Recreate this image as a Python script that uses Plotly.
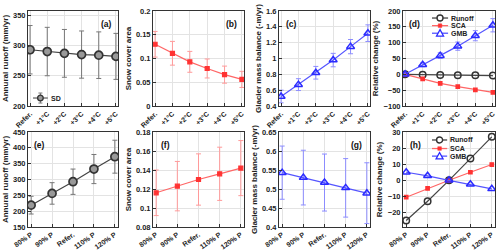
import plotly.graph_objects as go

temp_labels = ["Refer.", "+1°C", "+2°C", "+3°C", "+4°C", "+5°C"]
precip_labels = ["80% P", "90% P", "Refer.", "110% P", "120% P"]

runoff_t = [293, 290, 287, 285, 284, 282]
runoff_t_sd = [40, 40, 39.5, 39, 38.5, 38]
sca_t = [0.130, 0.111, 0.093, 0.079, 0.066, 0.056]
sca_t_sd = [0.027, 0.025, 0.022, 0.020, 0.018, 0.017]
gmb_t = [0.52, 0.67, 0.82, 0.98, 1.15, 1.32]
gmb_t_sd = [0.08, 0.075, 0.08, 0.085, 0.09, 0.105]
rel_runoff_t = [0, -1, -2, -2.7, -3.1, -3.8]
rel_sca_t = [0, -14.5, -28.5, -39, -49, -57]
rel_gmb_t = [0, 30, 59, 89, 122, 155]
rel_gmb_t_sd = [4, 6, 9, 13, 16, 21]

runoff_p = [219, 256, 293, 333, 372]
runoff_p_sd = [28, 34, 40, 46, 52]
sca_p = [0.116, 0.123, 0.130, 0.136, 0.142]
sca_p_sd = [0.024, 0.026, 0.027, 0.028, 0.029]
gmb_p = [0.543, 0.530, 0.517, 0.503, 0.489]
gmb_p_sd = [0.070, 0.072, 0.075, 0.077, 0.080]
rel_runoff_p = [-25, -13, 0, 13.5, 27]
rel_sca_p = [-10.5, -5, 0, 5, 9.8]
rel_gmb_p = [5, 2.8, 0, -2.5, -5.3]

series_names = ["Runoff", "SCA", "GMB"]

W, H = 500, 251
FONT = "Liberation Sans"

GRAY_LINE = "#444444"
GRAY_MK = "#333333"
GRAY_ERR = "#777777"
RED = "#ff3333"
RED_LINE = "#ff6666"
RED_ERR = "#ff9a9a"
BLUE = "#2a2aff"
BLUE_LINE = "#5555ff"
BLUE_ERR = "#8c8cff"

fig = go.Figure()

xdom_px = [(28, 118), (153, 244), (279, 370), (403, 495)]
ydom_top = (11, 106)
ydom_bot = (132, 227)

def xd(p):
    return [p[0] / W, p[1] / W]

def yd(p):
    return [1 - p[1] / H, 1 - p[0] / H]

def sfx(n):
    return "" if n == 1 else str(n)

def add_series(ax, x, y, err, color_line, color_marker, color_err, symbol, size,
               mfill=None, mline=1.2):
    kw = {}
    if err is not None:
        kw["error_y"] = dict(type="data", array=err, visible=True, color=color_err,
                             thickness=1, width=2.5)
    marker = dict(symbol=symbol, size=size, color=mfill if mfill else color_marker,
                  line=dict(color=color_marker, width=mline))
    fig.add_trace(go.Scatter(
        x=x, y=y, mode="lines+markers", showlegend=False,
        line=dict(color=color_line, width=1.2), marker=marker,
        xaxis="x" + sfx(ax), yaxis="y" + sfx(ax), **kw))

xt = list(range(len(temp_labels)))
xp = list(range(len(precip_labels)))

add_series(1, xt, runoff_t, runoff_t_sd, GRAY_LINE, GRAY_MK, GRAY_ERR,
           "circle", 8, mfill="#999999", mline=1.7)
add_series(2, xt, sca_t, sca_t_sd, RED_LINE, RED, RED_ERR, "square", 4)
add_series(3, xt, gmb_t, gmb_t_sd, BLUE_LINE, BLUE, BLUE_ERR, "triangle-up-open", 7, mline=1.5)
add_series(4, xt, rel_runoff_t, None, GRAY_LINE, GRAY_MK, GRAY_ERR, "circle-open", 6.5, mline=1.5)
add_series(4, xt, rel_sca_t, None, RED_LINE, RED, RED_ERR, "square", 3.5)
add_series(4, xt, rel_gmb_t, rel_gmb_t_sd, BLUE_LINE, BLUE, BLUE_ERR,
           "triangle-up-open", 7, mline=1.5)
add_series(5, xp, runoff_p, runoff_p_sd, GRAY_LINE, GRAY_MK, GRAY_ERR,
           "circle", 8, mfill="#999999", mline=1.7)
add_series(6, xp, sca_p, sca_p_sd, RED_LINE, RED, RED_ERR, "square", 4)
add_series(7, xp, gmb_p, gmb_p_sd, BLUE_LINE, BLUE, BLUE_ERR, "triangle-up-open", 7, mline=1.5)
add_series(8, xp, rel_runoff_p, None, GRAY_LINE, GRAY_MK, GRAY_ERR, "circle-open", 6.5, mline=1.5)
add_series(8, xp, rel_sca_p, None, RED_LINE, RED, RED_ERR, "square", 3.5)
add_series(8, xp, rel_gmb_p, None, BLUE_LINE, BLUE, BLUE_ERR, "triangle-up-open", 7, mline=1.5)

ytitles = ["Annural runoff (mm/yr)", "Snow cover area", "Glacier mass balance (-m/yr)",
           "Relative change (%)"] * 2
yranges = [[200, 357], [0, 0.2], [0.4, 1.6], [-100, 200],
           [150, 450], [0.08, 0.18], [0.4, 0.65], [-29, 30]]
ydticks = [50, 0.05, 0.2, 50, 50, 0.02, 0.05, 10]
ytick0 = [200, 0, 0.4, -100, 150, 0.08, 0.4, -20]

axis_common = dict(showline=True, linecolor="#333333", linewidth=1, mirror=True,
                   ticks="inside", ticklen=3, tickcolor="#333333",
                   showgrid=True, gridcolor="#e3e3e3", gridwidth=1,
                   zeroline=False, automargin=False)

layout = {}
for i in range(8):
    n = i + 1
    col = i % 4
    top = i < 4
    labels = temp_labels if top else precip_labels
    xs = sfx(n)
    npts = len(labels)
    pad = 0.12 if top else 0.15
    layout["xaxis" + xs] = dict(
        domain=xd(xdom_px[col]), anchor="y" + xs,
        range=[-pad, npts - 1 + pad], tickmode="array",
        tickvals=list(range(npts)), ticktext=labels,
        tickangle=-45 if top else -35,
        tickfont=dict(family=FONT, size=7, color="#222222", weight="bold"),
        **axis_common)
    layout["yaxis" + xs] = dict(
        domain=yd(ydom_top if top else ydom_bot), anchor="x" + xs,
        range=yranges[i], tick0=ytick0[i], dtick=ydticks[i],
        tickfont=dict(family=FONT, size=7.5, color="#222222", weight="bold"),
        title=dict(text=ytitles[i], standoff=3,
                   font=dict(family=FONT, size=8, color="#222222", weight="bold")),
        **axis_common)

fig.update_layout(**layout)

panel_labels = ["(a)", "(b)", "(c)", "(d)", "(e)", "(f)", "(g)", "(h)"]
label_x = [0.95, 0.95, 0.05, 0.04, 0.045, 0.065, 0.93, 0.05]
label_right = [True, True, False, False, False, False, True, False]
for i, lab in enumerate(panel_labels):
    xs = sfx(i + 1)
    fig.add_annotation(
        text=lab, xref="x" + xs + " domain", yref="y" + xs + " domain",
        x=label_x[i], y=0.94,
        xanchor="right" if label_right[i] else "left", yanchor="top",
        showarrow=False, font=dict(family=FONT, size=8.5, color="#111111", weight="bold"))

shapes = []

def marker_shape(ax, xa, ya, kind, color):
    xr, yr = "x" + sfx(ax) + " domain", "y" + sfx(ax) + " domain"
    base = dict(xref=xr, yref=yr, xsizemode="pixel", ysizemode="pixel",
                xanchor=xa, yanchor=ya)
    if kind == "circle":
        shapes.append(dict(type="circle", x0=-3, x1=3, y0=-3, y1=3,
                           line=dict(color=color, width=1.4), fillcolor="white", **base))
    elif kind == "square":
        shapes.append(dict(type="rect", x0=-1.8, x1=1.8, y0=-1.8, y1=1.8,
                           line=dict(color=color, width=0.5), fillcolor=color, **base))
    elif kind == "triangle":
        shapes.append(dict(type="path", path="M -3.5,-2.8 L 3.5,-2.8 L 0,3.6 Z",
                           line=dict(color=color, width=1.3), fillcolor="white", **base))
    elif kind == "sd":
        for (a0, a1, b0, b1) in [(0, 0, -5, 5), (-2, 2, 5, 5), (-2, 2, -5, -5)]:
            shapes.append(dict(type="line", x0=a0, x1=a1, y0=b0, y1=b1,
                               line=dict(color=GRAY_ERR, width=1), **base))
        shapes.append(dict(type="circle", x0=-2.8, x1=2.8, y0=-2.8, y1=2.8,
                           line=dict(color=GRAY_MK, width=1.3), fillcolor="#999999", **base))

def legend_entry(ax, y, x0, x1, xt_, name, lcolor, kind, mcolor):
    xr, yr = "x" + sfx(ax) + " domain", "y" + sfx(ax) + " domain"
    shapes.append(dict(type="line", xref=xr, yref=yr, x0=x0, x1=x1, y0=y, y1=y,
                       line=dict(color=lcolor, width=1.3)))
    marker_shape(ax, (x0 + x1) / 2, y, kind, mcolor)
    fig.add_annotation(text=name, xref=xr, yref=yr, x=xt_, y=y, xanchor="left",
                       yanchor="middle", showarrow=False,
                       font=dict(family=FONT, size=7, color="#222222", weight="bold"))

legend_entry(1, 0.084, 0.056, 0.22, 0.235, "SD", "#666666", "sd", GRAY_MK)

styles = [(GRAY_LINE, "circle", GRAY_MK), (RED_LINE, "square", RED),
          (BLUE_LINE, "triangle", BLUE)]
for k, (nm, (lc, kind, mc)) in enumerate(zip(series_names, styles)):
    legend_entry(4, [0.926, 0.846, 0.766][k], 0.315, 0.49, 0.50, nm, lc, kind, mc)
    legend_entry(8, [0.916, 0.826, 0.746][k], 0.315, 0.48, 0.49, nm, lc, kind, mc)

fig.update_layout(
    shapes=shapes,
    width=W, height=H,
    margin=dict(l=0, r=0, t=0, b=0),
    paper_bgcolor="white", plot_bgcolor="white",
    font=dict(family=FONT, size=8),
    showlegend=False,
)

fig.write_html("out.html", config={"displayModeBar": False},
               post_script="document.body.style.margin='0px';")
